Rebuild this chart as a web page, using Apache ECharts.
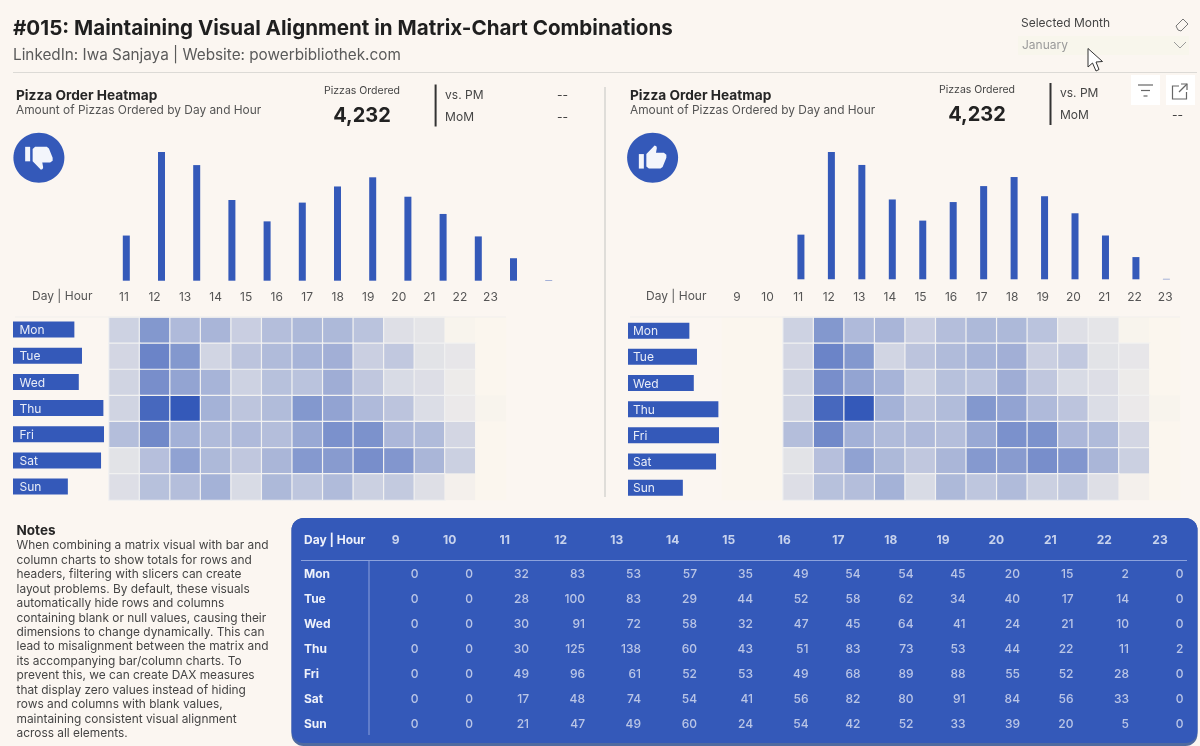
<!DOCTYPE html>
<html><head><meta charset="utf-8">
<style>html,body{margin:0;padding:0;background:#fbf6f1}#c{width:1200px;height:746px}</style>
<script src="https://cdn.jsdelivr.net/npm/echarts@6/dist/echarts.min.js"></script>
</head><body><div id="c"></div>
<script>
// ---- data ----
const hours = ['9','10','11','12','13','14','15','16','17','18','19','20','21','22','23'];
const days = ['Mon','Tue','Wed','Thu','Fri','Sat','Sun'];
const mon = [0,0,32,83,53,57,35,49,54,54,45,20,15,2,0];
const tue = [0,0,28,100,83,29,44,52,58,62,34,40,17,14,0];
const wed = [0,0,30,91,72,58,32,47,45,64,41,24,21,10,0];
const thu = [0,0,30,125,138,60,43,51,83,73,53,44,22,11,2];
const fri = [0,0,49,96,61,52,53,49,68,89,88,55,52,28,0];
const sat = [0,0,17,48,74,54,41,56,82,80,91,84,56,33,0];
const sun = [0,0,21,47,49,60,24,54,42,52,33,39,20,5,0];
const hourTotals = [0,0,207,590,530,370,272,358,432,474,385,306,203,103,2];
const dayTotals = [499,561,535,735,740,716,446];
const totalPizzas = '4,232';
const notes = ['When combining a matrix visual with bar and','column charts to show totals for rows and','headers, filtering with slicers can create','layout problems. By default, these visuals','automatically hide rows and columns','containing blank or null values, causing their','dimensions to change dynamically. This can','lead to misalignment between the matrix and','its accompanying bar/column charts. To','prevent this, we can create DAX measures','that display zero values instead of hiding','rows and columns with blank values,','maintaining consistent visual alignment','across all elements.'];

// ---- layout of the table's (unequal) columns ----
const colRight = [419,473.5,529.5,585.5,641.5,697.5,753.5,809,861,914,966,1020.5,1074,1129.5,1184];
const colCenter = [395.7,449.7,504.7,560.7,616.7,672.7,728.7,784.3,838.3,890.7,943,996.3,1050.3,1104.3,1160];

const rows = [mon,tue,wed,thu,fri,sat,sun];
const FONT = 'Inter';
const BLUE = '#3459b9';
const BG = '#fbf6f1';

const grid = [], xAxis = [], yAxis = [], series = [], heatIdx = [];
function addGrid(g, x, y){ grid.push(g); const i = grid.length-1;
  xAxis.push(Object.assign({gridIndex:i}, x)); yAxis.push(Object.assign({gridIndex:i}, y)); return i; }
const hiddenVal = {type:'value', show:false};
const hiddenAxis = {axisLine:{show:false}, axisTick:{show:false}, splitLine:{show:false}};

function panel(start, p){
  const hs = hours.slice(start), tot = hourTotals.slice(start);
  // column totals
  let i = addGrid({left:p.barL, width:p.barW, top:152, height:p.barH},
    Object.assign({type:'category', data:hs, axisLabel:{show:false}}, hiddenAxis),
    {type:'value', show:false, min:0, max:590});
  series.push({type:'bar', xAxisIndex:i, yAxisIndex:i, data:tot, barWidth:7, itemStyle:{color:BLUE}, silent:true});
  // hour labels (separate scale, as in the reference)
  i = addGrid({left:p.lblL, width:p.lblW, top:270, height:11},
    Object.assign({type:'category', data:hs, axisLabel:{interval:0, color:'#555', fontFamily:FONT, fontSize:12, margin:10}}, hiddenAxis),
    hiddenVal);
  // day totals
  i = addGrid({left:p.dayL, width:91, top:p.dayT, height:183.2},
    {type:'value', show:false, min:0, max:740},
    Object.assign({type:'category', data:days, inverse:true, axisLabel:{show:false}}, hiddenAxis));
  series.push({type:'bar', xAxisIndex:i, yAxisIndex:i, data:dayTotals, barWidth:16, itemStyle:{color:BLUE}, silent:true,
    label:{show:true, position:'insideLeft', distance:p.dayLbl, offset:[0,1], formatter:'{b}', color:'#e9edf8', fontFamily:FONT, fontSize:12}});
  // matrix
  i = addGrid({left:p.heatL, width:p.heatW, top:317.3, height:182.7},
    Object.assign({type:'category', data:hs, axisLabel:{show:false}}, hiddenAxis),
    Object.assign({type:'category', data:days, inverse:true, axisLabel:{show:false}}, hiddenAxis));
  const cells = [];
  rows.forEach((r,d)=>r.slice(start).forEach((v,h)=>cells.push(
    v < 6 ? {value:[h,d,v], itemStyle:{borderWidth:0}} : {value:[h,d,v]})));
  series.push({type:'heatmap', xAxisIndex:i, yAxisIndex:i, data:cells, silent:true, progressive:0,
    itemStyle:{borderColor:'#f1f1f1', borderWidth:1.2}});
  heatIdx.push(series.length-1);
}
panel(2, {barL:108.7, barW:457.6, barH:128.7, lblL:108.7, lblW:397, dayL:13, dayT:316.5, heatL:109, heatW:397, dayLbl:6.5});
panel(0, {barL:724.8, barW:456.8, barH:127.3, lblL:721.7, lblW:458.8, dayL:628, dayT:317.6, heatL:722, heatW:458, dayLbl:5});

// table
const tableMin = 304, tableMax = 1200;
let t = addGrid({left:tableMin, width:tableMax-tableMin, top:561.6, height:175},
  {type:'value', show:false, min:tableMin, max:tableMax},
  Object.assign({type:'category', data:days, inverse:true,
    axisLabel:{interval:0, align:'left', margin:0, color:'#eef1fa', fontWeight:'bold', fontFamily:FONT, fontSize:12}}, hiddenAxis));
const body = [];
rows.forEach((r,d)=>r.forEach((v,h)=>body.push([colRight[h], days[d], v])));
series.push({type:'scatter', xAxisIndex:t, yAxisIndex:t, data:body, symbolSize:1, silent:true,
  itemStyle:{color:'transparent'},
  label:{show:true, position:'left', distance:0, formatter:p=>String(p.value[2]), color:'#dbe0f1', fontWeight:500, fontFamily:FONT, fontSize:12}});
t = addGrid({left:tableMin, width:tableMax-tableMin, top:528.6, height:24},
  {type:'value', show:false, min:tableMin, max:tableMax},
  Object.assign({type:'category', data:['Day | Hour'],
    axisLabel:{interval:0, align:'left', margin:0, color:'#eef1fa', fontWeight:'bold', fontFamily:FONT, fontSize:12}}, hiddenAxis));
series.push({type:'scatter', xAxisIndex:t, yAxisIndex:t, data:hours.map((h,i)=>[colCenter[i],'Day | Hour',h]), symbolSize:1, silent:true,
  itemStyle:{color:'transparent'},
  label:{show:true, position:'inside', formatter:p=>p.value[2], color:'#eef1fa', fontWeight:'bold', fontFamily:FONT, fontSize:12}});

// ---- decoration ----
const g = [];
const txt = (x,y,text,size,color,opt={}) => g.push({type:'text', x, y:y+0.7, silent:true, z:opt.z||5, style:{text, fontFamily:FONT, fontSize:size, fill:color, fontWeight:opt.w||'normal', align:opt.a||'left', verticalAlign:'middle'}});
const line = (x1,y1,x2,y2,stroke,lw=1) => g.push({type:'line', silent:true, z:3, shape:{x1,y1,x2,y2}, style:{stroke,lineWidth:lw}});
txt(13,28.5,'#015: Maintaining Visual Alignment in Matrix-Chart Combinations',20.6,'#1f1f1f',{w:'bold'});
txt(13,54.5,'LinkedIn: Iwa Sanjaya | Website: powerbibliothek.com',15.3,'#5a5a5a');
line(13,72.5,1197,72.5,'#dcdad6',1.2);
line(605,87,605,497,'#d6d4d1',1.5);
line(15,317,506,317,'#f1efec',1);
line(630,317,1180,317,'#f1efec',1);

// thumb icon outline in a 24-unit box
const THUMB_BAR = [[1,9],[5,9],[5,21],[1,21]];
const THUMB_HAND = [[7,9],[13.6,2],[15,2.6],[15.4,4],[14.7,8],[21,8],[23,9.5],[23,12],[20,19.6],[18.3,21],[9,21],[7,19.2]];
function thumb(cx, cy, w, h, down){
  const map = pts => pts.map(([x,y])=>[cx+(x-12)*w/24, cy+(down?12-y:y-12)*h/24]);
  [THUMB_BAR, THUMB_HAND].forEach(p=>g.push({type:'polygon',silent:true,z:3,shape:{points:map(p)},style:{fill:'#f3f5fb'}}));
}
function head(o){
  txt(o.x,95.5,'Pizza Order Heatmap',13.7,'#262626',{w:'bold'});
  txt(o.x,110,'Amount of Pizzas Ordered by Day and Hour',11.9,'#555555');
  txt(o.kx,o.ky-25,'Pizzas Ordered',10.5,'#444',{a:'center'});
  txt(o.kx,o.ky,totalPizzas,20,'#222',{a:'center',w:'bold'});
  line(o.lx,o.ky-31,o.lx,o.ky+11,'#333',2);
  txt(o.lx+9.5,o.ky-21,'vs. PM',12,'#444');
  txt(o.lx+9.5,o.ky+1,'MoM',12,'#444');
  if(!o.hideFirst) txt(o.dx,o.ky-21,'--',12,'#444');
  txt(o.dx,o.ky+1,'--',12,'#444');
  g.push({type:'ellipse',silent:true,z:2,shape:{cx:o.cx,cy:157.7,rx:25.5,ry:25},style:{fill:BLUE}});
  thumb(o.cx,157.7,30,29,o.down);
}
head({x:16,kx:362,ky:115.5,lx:435.6,dx:557,cx:38.9,down:true});
head({x:630,kx:977,ky:114,lx:1050.5,dx:1172,cx:652.6,hideFirst:true});

// slicer
txt(1021,23,'Selected Month',12,'#444');
g.push({type:'rect',silent:true,z:1,shape:{x:1018,y:36,width:171,height:19},style:{fill:'#f8f6ec'}});
txt(1022,45,'January',12,'#9a9a9a');
g.push({type:'polyline',silent:true,z:2,shape:{points:[[1174,42],[1180,48],[1186,42]]},style:{stroke:'#9a9a9a',fill:null,lineWidth:1}});
g.push({type:'polygon',silent:true,z:2,shape:{points:[[1176,26],[1183,19],[1188,24],[1181,31],[1178,30]]},style:{stroke:'#777',fill:'none',lineWidth:1}});
// cursor
g.push({type:'polygon',silent:true,z:8,shape:{points:[[1088,48.5],[1088,67],[1092.5,63],[1096,71],[1099,69.5],[1096,62],[1102.5,61.5]]},style:{fill:'#fff',stroke:'#333',lineWidth:1}});
// visual header icons
g.push({type:'rect',silent:true,z:1,shape:{x:1131,y:75,width:29,height:30},style:{fill:'#fff'}});
g.push({type:'rect',silent:true,z:1,shape:{x:1166,y:75,width:29,height:30},style:{fill:'#fff'}});
line(1138,85,1153,85,'#666',1.2); line(1141,90.5,1150,90.5,'#666',1.2); line(1143.5,96,1147.5,96,'#666',1.2);
g.push({type:'polyline',silent:true,z:3,shape:{points:[[1179,86],[1172.5,86],[1172.5,99],[1186.5,99],[1186.5,92]]},style:{stroke:'#666',fill:null,lineWidth:1.2}});
line(1179,92,1187,84,'#666',1.2);
g.push({type:'polyline',silent:true,z:3,shape:{points:[[1181,84],[1187,84],[1187,90]]},style:{stroke:'#666',fill:null,lineWidth:1.2}});
// hour-axis captions
txt(32,296,'Day | Hour',12,'#555');
txt(646,296,'Day | Hour',12,'#555');
// notes
txt(16.5,530,'Notes',13.5,'#262626',{w:'bold'});
notes.forEach((n,i)=>txt(16.5,545+i*14.46,n,11.9,'#454545'));
// table panel
g.push({type:'rect',silent:true,z:-2,shape:{x:291.5,y:518,width:906,height:228,r:12},style:{fill:'#4f6a9f'}});
g.push({type:'rect',silent:true,z:-1,shape:{x:291.5,y:518,width:906,height:225,r:12},style:{fill:BLUE}});
line(301,560.5,1187,560.5,'#8ca2dc',1);
line(369,561,369,735,'#8ca2dc',1);

const chart = echarts.init(document.getElementById('c'), null, {renderer:'canvas'});
chart.setOption({
  animation:false, backgroundColor:BG, textStyle:{fontFamily:FONT},
  grid, xAxis, yAxis, series, graphic:{elements:g},
  visualMap:{show:false, type:'continuous', min:0, max:138, dimension:2, seriesIndex:heatIdx,
    inRange:{color:['#fbf6ee',BLUE]}}
});
</script></body></html>
